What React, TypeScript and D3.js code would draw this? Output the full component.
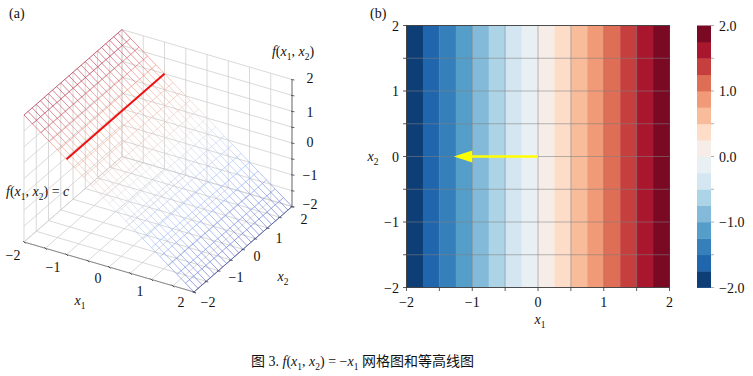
import React from "react";
import * as d3 from "d3";

const W = 753, H = 376;
const serif = "'Liberation Serif','Times New Roman',serif";
const cjk = "'Noto Sans CJK SC',sans-serif";

const axisTicks = [-2, -1.5, -1, -0.5, 0, 0.5, 1, 1.5, 2];
const labelTicks = [-2, -1, 0, 1, 2];
const bandEdges = [-2, -1.75, -1.5, -1.25, -1, -0.75, -0.5, -0.25, 0, 0.25, 0.5, 0.75, 1, 1.25, 1.5, 1.75, 2];
// colours for f from -2 up to 2
const bandColors = ["#0d3f76", "#2066ad", "#357fba", "#549ec9", "#83bad9", "#add3e6", "#d3e6f1", "#e9f0f4", "#f7ede8", "#fddcc8", "#f9bc9a", "#f09a77", "#df6e56", "#c53f3f", "#a9172e", "#7a0a24"];
const colorbarTicks = [-2, -1.5, -1, -0.5, 0, 0.5, 1, 1.5, 2];
const colorbarLabels = [-2, -1, 0, 1, 2];
const meshX1 = d3.range(0, 21).map((i) => -2 + i * 0.2);
const meshX2 = d3.range(0, 25).map((i) => -2 + (i * 4) / 24);
const coolwarmStops = ["#3b4cc0", "#8caffe", "#dddcdc", "#f4987a", "#b40426"];
const levelX1 = -1;

// 3D view: affine projection from corner positions
const sx1 = d3.scaleLinear().domain([-2, 2]).range([0, 170]);
const sy1 = d3.scaleLinear().domain([-2, 2]).range([0, 50]);
const sx2 = d3.scaleLinear().domain([-2, 2]).range([0, 98]);
const sy2 = d3.scaleLinear().domain([-2, 2]).range([0, -85.5]);
const sz = d3.scaleLinear().domain([-2, 2]).range([0, -127]);
const ox = 24, oy = 242;
const proj = (a: number, b: number, c: number): [number, number] => [ox + sx1(a) + sx2(b), oy + sy1(a) + sy2(b) + sz(c)];
const f = (a: number) => -a;
const coolwarm = d3.scaleLinear<string>().domain([-2, -1, 0, 1, 2]).range(coolwarmStops);
const path3 = d3.line();

// 2D panel scales
const px = d3.scaleLinear().domain([-2, 2]).range([406.5, 669.5]);
const py = d3.scaleLinear().domain([-2, 2]).range([287.5, 25.5]);
const cy = d3.scaleLinear().domain([-2, 2]).range([287.5, 25.5]);

const Sub = ({ c, fs }: { c: string; fs: number }) => (
  <>
    <tspan dy={fs * 0.25} fontSize={fs * 0.68}>{c}</tspan>
    <tspan dy={-fs * 0.25} fontSize={fs}>{"\u200b"}</tspan>
  </>
);
const X = ({ n, fs }: { n: string; fs: number }) => (
  <>
    <tspan fontStyle="italic">x</tspan>
    <Sub c={n} fs={fs} />
  </>
);
const FX = ({ fs }: { fs: number }) => (
  <>
    <tspan fontStyle="italic">f</tspan>(<X n="1" fs={fs} />, <X n="2" fs={fs} />)
  </>
);
const minus = (v: number) => String(v).replace("-", "\u2212");
const minus1 = (v: number) => v.toFixed(1).replace("-", "\u2212");

const gridC = "#cfcfcf";

export default function App() {
  const wallLines: [number, number, number][][] = [];
  axisTicks.forEach((t) => {
    wallLines.push([[t, -2, -2], [t, 2, -2], [t, 2, 2]]);
    wallLines.push([[-2, t, -2], [2, t, -2]]);
    wallLines.push([[-2, t, -2], [-2, t, 2]]);
    wallLines.push([[-2, -2, t], [-2, 2, t], [2, 2, t]]);
  });
  return (
    <svg width={W} height={H} viewBox={`0 0 ${W} ${H}`} style={{ position: "absolute", left: 0, top: 0, background: "#fff" }} fontFamily={serif} fontSize={14} fill="#111">
      <text x={9} y={18}>(a)</text>
      <text x={370} y={18}>(b)</text>

      <g fill="none" stroke={gridC} strokeWidth={0.8}>
        {wallLines.map((l, i) => (
          <path key={i} d={path3(l.map((p) => proj(p[0], p[1], p[2])))!} />
        ))}
      </g>
      {/* axis lines */}
      <g fill="none" stroke="#8a8a8a" strokeWidth={1}>
        <path d={path3([proj(-2, -2, -2), proj(2, -2, -2), proj(2, 2, -2)])!} />
        <path d={path3([proj(2, 2, -2), proj(2, 2, 2)])!} strokeWidth={1.2} />
      </g>
      <g stroke="#444" strokeWidth={0.8}>
        {axisTicks.map((t) => {
          const a = proj(t, -2, -2), b = proj(2, t, -2), c = proj(2, 2, t);
          return (
            <g key={t}>
              <line x1={a[0] - 1} y1={a[1] - 1} x2={a[0] + 1.5} y2={a[1] + 1.5} />
              <line x1={b[0] - 1.5} y1={b[1] + 0.2} x2={b[0] + 2} y2={b[1] + 0.6} />
              <line x1={c[0] - 1} y1={c[1]} x2={c[0] + 2.5} y2={c[1] + 0.5} />
            </g>
          );
        })}
      </g>

      {/* mesh */}
      <g fill="none" strokeWidth={0.75} strokeOpacity={0.72}>
        {meshX1.map((a, i) => (
          <path key={"a" + i} stroke={coolwarm(f(a))} d={path3(meshX2.map((b) => proj(a, b, f(a))))!} />
        ))}
        {meshX2.map((b, j) =>
          meshX1.slice(1).map((a, i) => (
            <path key={`b${j}-${i}`} stroke={coolwarm(f((a + meshX1[i]) / 2))} d={path3([proj(meshX1[i], b, f(meshX1[i])), proj(a, b, f(a))])!} />
          ))
        )}
      </g>
      <path d={path3([proj(levelX1, -2, f(levelX1)), proj(levelX1, 2, f(levelX1))])!} stroke="#f01010" strokeWidth={2} fill="none" />

      {/* 3D labels */}
      <text x={293} y={56} textAnchor="middle"><FX fs={14} /></text>
      <g textAnchor="middle">
        {labelTicks.map((t, i) => (
          <text key={t} x={[13, 53, 98, 140, 181][i]} y={[260, 272, 283, 296, 307][i]}>{minus(t)}</text>
        ))}
        {labelTicks.map((t, i) => (
          <text key={t} x={[208, 236, 257, 279, 304][i]} y={[307, 282, 261, 243, 224][i]}>{minus(t)}</text>
        ))}
        {labelTicks.map((t, i) => (
          <text key={t} x={[310, 310, 310, 310, 310][4 - i]} y={[83, 117, 147, 180, 209][4 - i]}>{minus(t)}</text>
        ))}
        <text x={80} y={305}><X n="1" fs={14} /></text>
        <text x={283} y={281}><X n="2" fs={14} /></text>
      </g>
      <text x={6} y={196}><FX fs={14} /> = <tspan fontStyle="italic">c</tspan></text>

      {/* contour panel */}
      {bandColors.map((c, i) => (
        <rect key={i} x={px(bandEdges[i])} y={py(2)} width={px(bandEdges[i + 1]) - px(bandEdges[i]) + 0.4} height={py(-2) - py(2)} fill={c} />
      ))}
      <g stroke="#808080" strokeOpacity={0.55} strokeWidth={1}>
        {axisTicks.map((t) => (
          <g key={t}>
            <line x1={px(t)} x2={px(t)} y1={py(-2)} y2={py(2)} />
            <line x1={px(-2)} x2={px(2)} y1={py(t)} y2={py(t)} />
          </g>
        ))}
      </g>
      <rect x={px(-2)} y={py(2)} width={px(2) - px(-2)} height={py(-2) - py(2)} fill="none" stroke="#333" strokeWidth={0.8} />
      <g stroke="#333" strokeWidth={0.8}>
        {axisTicks.map((t) => (
          <g key={t}>
            <line x1={px(t)} x2={px(t)} y1={py(-2)} y2={py(-2) + 3.5} />
            <line x1={px(-2) - 3.5} x2={px(-2)} y1={py(t)} y2={py(t)} />
          </g>
        ))}
      </g>
      {labelTicks.map((t) => (
        <text key={t} x={px(t)} y={307} textAnchor="middle">{minus(t)}</text>
      ))}
      {labelTicks.map((t) => (
        <text key={t} x={399} y={py(t) + 5} textAnchor="end">{minus(t)}</text>
      ))}
      <text x={540} y={324} textAnchor="middle"><X n="1" fs={14} /></text>
      <text x={373} y={161} textAnchor="middle"><X n="2" fs={14} /></text>
      <line x1={px(0)} x2={px(-1.1)} y1={py(0)} y2={py(0)} stroke="#ffff00" strokeWidth={2.6} />
      <polygon points={[[px(-1.28), py(0)], [px(-1.0), py(0) - 6], [px(-1.0), py(0) + 6]].join(" ")} fill="#ffff00" />

      {/* colorbar */}
      {bandColors.map((c, i) => (
        <rect key={i} x={697} y={cy(bandEdges[i + 1])} width={14} height={cy(bandEdges[i]) - cy(bandEdges[i + 1]) + 0.4} fill={c} />
      ))}
      <g stroke="#999" strokeWidth={0.8}>
        {colorbarTicks.map((t) => (
          <line key={t} x1={711} x2={714} y1={cy(t)} y2={cy(t)} />
        ))}
      </g>
      {colorbarLabels.map((t) => (
        <text key={t} x={719} y={cy(t) + 5}>{minus1(t)}</text>
      ))}

      {/* caption */}
      <text x={251} y={366}>
        <tspan fontFamily={cjk}>图</tspan> 3. <FX fs={14} /> = {"\u2212"}<X n="1" fs={14} /> <tspan fontFamily={cjk}>网格图和等高线图</tspan>
      </text>
    </svg>
  );
}
